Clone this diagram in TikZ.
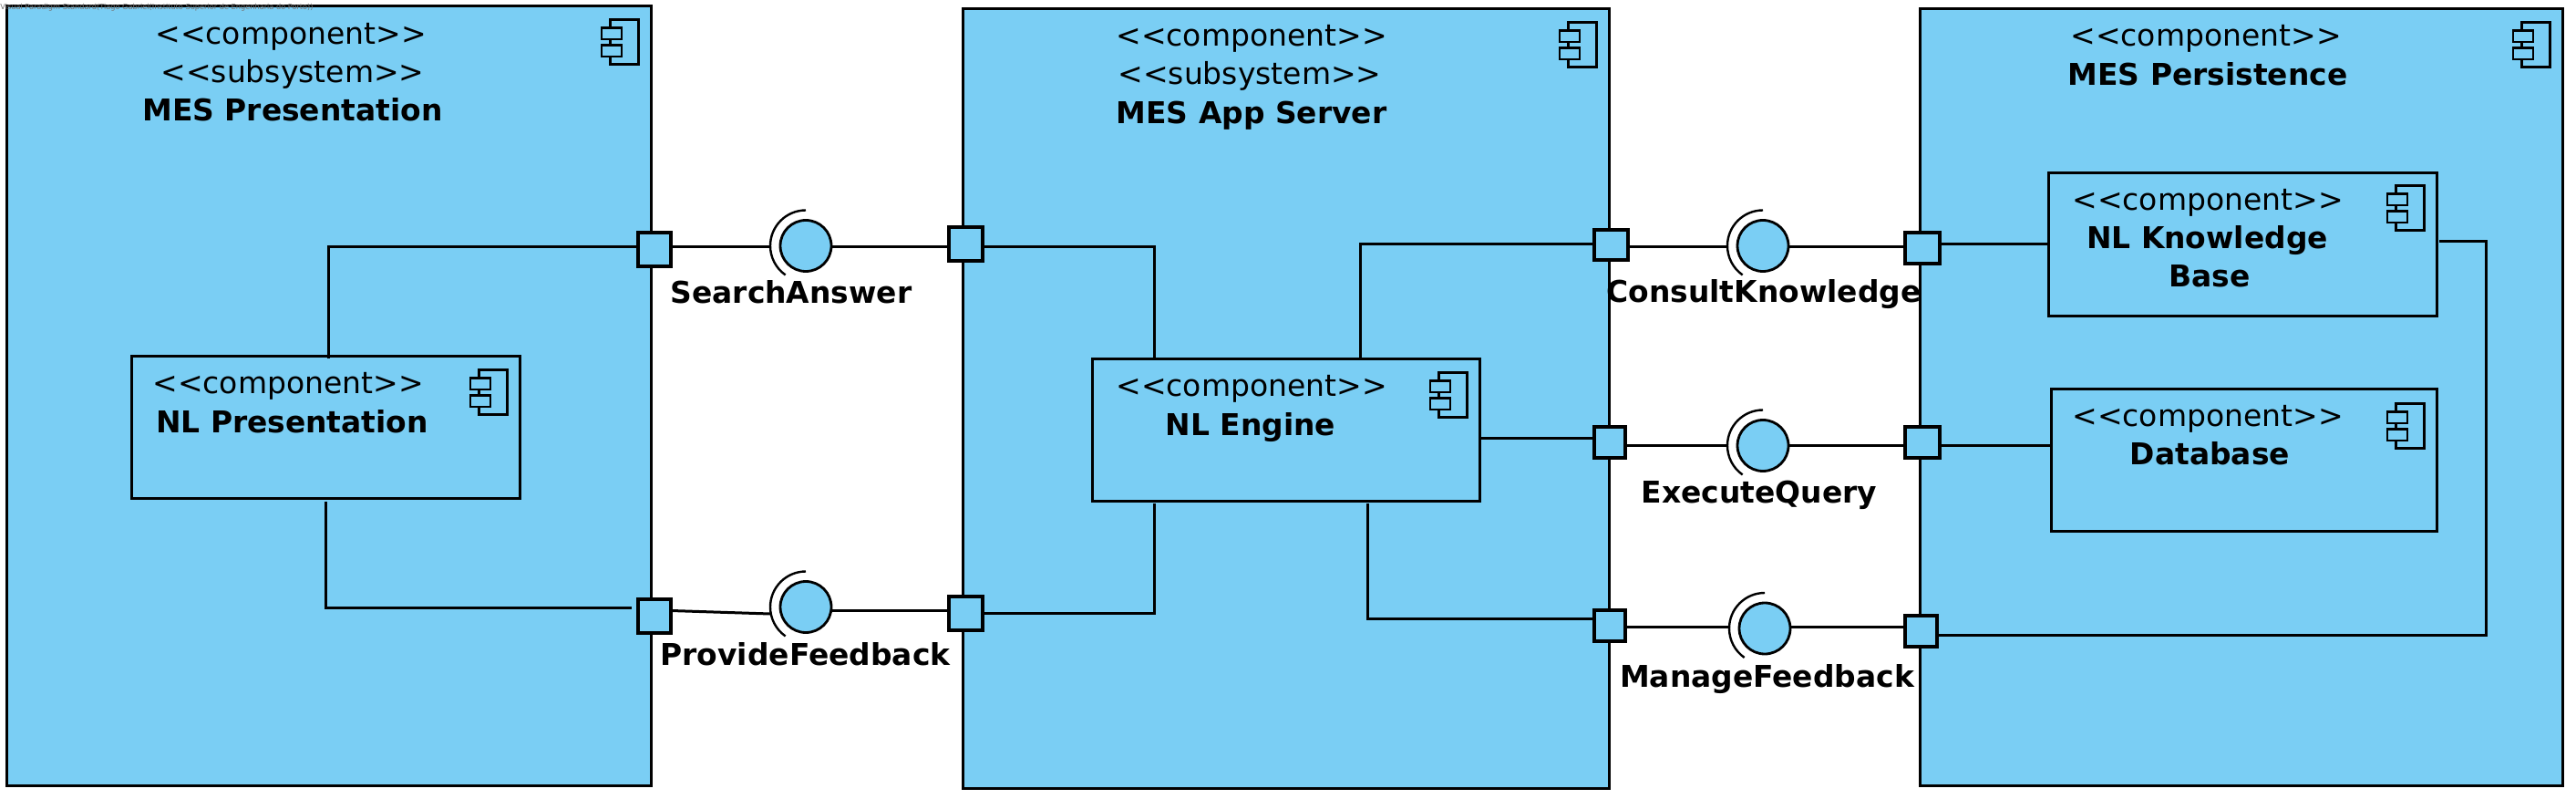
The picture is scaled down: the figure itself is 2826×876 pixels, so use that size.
\documentclass[tikz,border=0pt]{standalone}
\usepackage{fontspec}
\setmainfont{DejaVu Sans}
\definecolor{umlblue}{HTML}{7ACEF4}
\newcommand\comptxt{<{}<component>{}>}
\newcommand\subtxt{<{}<subsystem>{}>}
\tikzset{
  x=0.5pt,y=-0.5pt,
  pxsize/.style 2 args={minimum width=#1*0.5pt,minimum height=#2*0.5pt},
  compbox/.style={draw=black,fill=umlblue,line width=1.5pt,rectangle,inner sep=0pt,outer sep=0pt},
  portbox/.style={draw=black,fill=umlblue,line width=1.7pt,rectangle,inner sep=0pt,outer sep=0pt},
  ball/.style={draw=black,fill=umlblue,line width=1.4pt,circle,inner sep=0pt,outer sep=0pt,minimum size=28pt},
  link/.style={draw=black,line width=1.5pt},
  socket/.style={draw=black,line width=1.2pt},
  stereo/.style={anchor=base,inner sep=0pt,font=\fontsize{16.5}{19}\selectfont},
  title/.style={anchor=base,inner sep=0pt,font=\fontsize{16.45}{19}\selectfont\bfseries},
  iconpart/.style={draw=black,fill=umlblue,line width=1.4pt},
}
\newcommand\compicon[2]{%
  \begin{scope}[shift={(#1,#2)}]
    \draw[iconpart] (0,0) rectangle (31,49);
    \draw[iconpart] (-9.5,9) rectangle (12.5,21.5);
    \draw[iconpart] (-9.5,28) rectangle (12.5,40.5);
  \end{scope}}
\newcommand\sockof[1]{%
  \draw[socket] ([shift={(90:19.5pt)}]#1.center) arc[start angle=90,end angle=235,radius=19.5pt];}
\begin{document}
\begin{tikzpicture}
\useasboundingbox (0,0) rectangle (2826,876);
% subsystems
\node[compbox,pxsize={707}{854}] (presentation) at (360.5,434) {};
\node[compbox,pxsize={709}{855}] (appserver) at (1410.5,437) {};
\node[compbox,pxsize={705}{852}] (persistence) at (2458.5,435.5) {};
% inner components
\node[compbox,pxsize={426}{156}] (nlp) at (357,468.5) {};
\node[compbox,pxsize={425}{156}] (nle) at (1410.5,471.5) {};
\node[compbox,pxsize={426}{157}] (kb) at (2460,268) {};
\node[compbox,pxsize={423}{156}] (db) at (2461.5,504.5) {};
% icons
\compicon{669.5}{21.5}
\compicon{1720.5}{24.5}
\compicon{2766.5}{24.5}
\compicon{525.5}{405.5}
\compicon{1578.5}{408.5}
\compicon{2628.5}{203.5}
\compicon{2628.5}{442.5}
% bend points
\coordinate (c1) at (360,271);
\coordinate (c2) at (357,666);
\coordinate (c3) at (1266,271);
\coordinate (c4) at (1266,672);
\coordinate (c5) at (1492,268);
\coordinate (c6) at (1500,678.5);
\coordinate (c7) at (2727,264.5);
\coordinate (c8) at (2727,696);
% ports
\node[portbox,pxsize={36}{37}] (p1) at (718,273.5) {};
\node[portbox,pxsize={37}{37}] (p2) at (1059.5,267.5) {};
\node[portbox,pxsize={36}{37}] (p3) at (718,675.5) {};
\node[portbox,pxsize={37}{37}] (p4) at (1059.5,672.5) {};
\node[portbox,pxsize={37}{33}] (p5) at (1767.5,268.5) {};
\node[portbox,pxsize={38}{34}] (p6) at (2109,272) {};
\node[portbox,pxsize={34}{34}] (p7) at (1766,485) {};
\node[portbox,pxsize={38}{34}] (p8) at (2109,485) {};
\node[portbox,pxsize={34}{34}] (p9) at (1766,686) {};
\node[portbox,pxsize={35}{34}] (p10) at (2107.5,692) {};
% interface balls
\node[ball] (i1) at (884,269.5) {};
\node[ball] (i2) at (884,665.5) {};
\node[ball] (i3) at (1934,269.5) {};
\node[ball] (i4) at (1934,488.5) {};
\node[ball] (i5) at (1936,689) {};
\sockof{i1}\sockof{i2}\sockof{i3}\sockof{i4}\sockof{i5}
% connectors inside the subsystems
\draw[link] (nlp.north -| c1) ++(0,3) -- (c1) -- (c1 -| p1.west);
\draw[link] (c2 |- nlp.south) ++(0,4) -- (c2) -- (693,666);
\draw[link] (p2.east |- c3) -- (c3) -- (c3 |- nle.north);
\draw[link] (p4.east |- c4) -- (c4) -- (1266,552);
\draw[link] (c5 |- nle.north) -- (c5) -- (c5 -| p5.west);
\draw[link] (nle.east |- 0,480.5) -- (p7.west |- 0,480.5);
\draw[link] (1500,552) -- (c6) -- (c6 -| p9.west);
\draw[link] (p6.east |- 0,267.5) -- (kb.west |- 0,267.5);
\draw[link] (p8.east |- 0,489) -- (db.west |- 0,489);
\draw[link] (2676,264.5) -- (c7) -- (c8) -- (c8 -| p10.east);
% connectors through the interfaces
\draw[link] (p1.east |- 0,270.5) -- (846,270.5);
\draw[link] (i1.east |- 0,270.5) -- (p2.west |- 0,270.5);
\draw[link] (p3.east |- 0,669.5) -- (845,673);
\draw[link] (i2.east |- 0,669.5) -- (p4.west |- 0,669.5);
\draw[link] (p5.east |- 0,270.5) -- (1895,270.5);
\draw[link] (i3.east |- 0,270.5) -- (p6.west |- 0,270.5);
\draw[link] (p7.east |- 0,489) -- (1895,489);
\draw[link] (i4.east |- 0,489) -- (p8.west |- 0,489);
\draw[link] (p9.east |- 0,687) -- (1898,687);
\draw[link] (i5.east |- 0,687) -- (p10.west |- 0,687);
% texts
\node[stereo] (t1a) at (319,49) {\comptxt};
\node[stereo] (t1b) at (321,91) {\subtxt};
\node[title] (t1c) at (321,132.5) {MES Presentation};
\node[stereo] (t2a) at (1373,51) {\comptxt};
\node[stereo] (t2b) at (1371,93) {\subtxt};
\node[title] (t2c) at (1373,136) {MES App Server};
\node[stereo] (t3a) at (2420,51) {\comptxt};
\node[title] (t3b) at (2422,94) {MES Persistence};
\node[stereo] (t4a) at (316,432) {\comptxt};
\node[title] (t4b) at (320.5,474.5) {NL Presentation};
\node[stereo] (t5a) at (1373,435) {\comptxt};
\node[title] (t5b) at (1372,478) {NL Engine};
\node[stereo] (t6a) at (2422,231) {\comptxt};
\node[title] (t6b) at (2421.5,273) {NL Knowledge};
\node[title] (t6c) at (2424,315) {Base};
\node[stereo] (t7a) at (2422,468) {\comptxt};
\node[title] (t7b) at (2424.5,510) {Database};
\node[title] (l1) at (868,333) {SearchAnswer};
\node[title] (l2) at (883.5,729) {ProvideFeedback};
\node[title] (l3) at (1935,332) {ConsultKnowledge};
\node[title] (l4) at (1930,551.5) {ExecuteQuery};
\node[title] (l5) at (1938.5,753) {ManageFeedback};
\node[anchor=base west,inner sep=0pt,text=black!55,font=\fontsize{4.1}{5}\selectfont] (wm) at (0,11) {Visual Paradigm Standard(Tiago Gabriel(Instituto Superior de Engenharia do Porto))};
\end{tikzpicture}
\end{document}
